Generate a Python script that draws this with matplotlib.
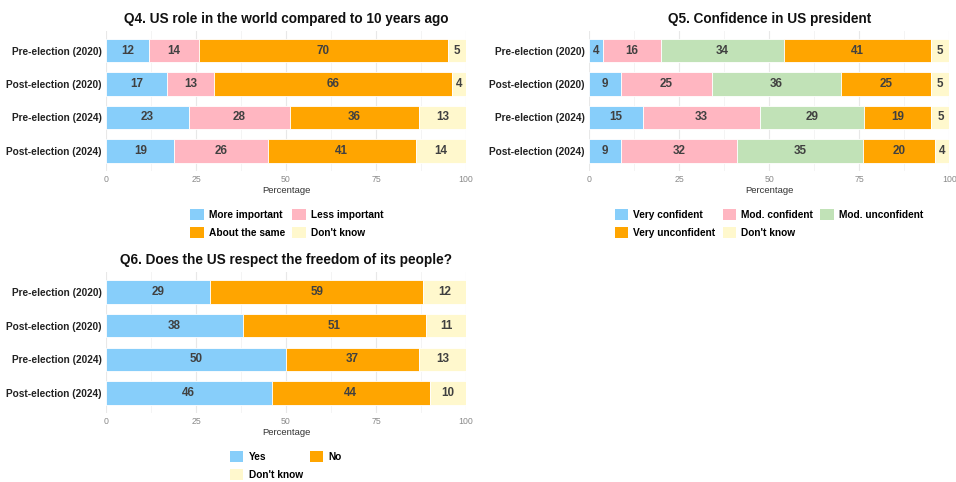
import numpy as np
import matplotlib
matplotlib.use("Agg")
import matplotlib.pyplot as plt
from matplotlib.patches import Patch

plt.rcParams['font.family'] = ['Liberation Sans', 'DejaVu Sans']

W, H = 956, 482

periods = ['Pre-election (2020)', 'Post-election (2020)',
           'Pre-election (2024)', 'Post-election (2024)']

# Q4
q4_title = 'Q4. US role in the world compared to 10 years ago'
q4_cats = ['More important', 'Less important', 'About the same', "Don't know"]
q4_more = [12, 17, 23, 19]
q4_less = [14, 13, 28, 26]
q4_same = [70, 66, 36, 41]
q4_dk = [5, 4, 13, 14]

# Q5
q5_title = 'Q5. Confidence in US president'
q5_cats = ['Very confident', 'Mod. confident', 'Mod. unconfident',
           'Very unconfident', "Don't know"]
q5_vc = [4, 9, 15, 9]
q5_mc = [16, 25, 33, 32]
q5_mu = [34, 36, 29, 35]
q5_vu = [41, 25, 19, 20]
q5_dk = [5, 5, 5, 4]

# Q6
q6_title = 'Q6. Does the US respect the freedom of its people?'
q6_cats = ['Yes', 'No', "Don't know"]
q6_yes = [29, 38, 50, 46]
q6_no = [59, 51, 37, 44]
q6_dk = [12, 11, 13, 10]

C_BLUE = '#87CEFA'
C_PINK = '#FFB6C1'
C_GREEN = '#C1E2B7'
C_ORANGE = '#FFA500'
C_CREAM = '#FFF8CD'

TXT = '#404040'


def px_axes(fig, x0, x1, y0, y1):
    return fig.add_axes([x0 / W, 1 - y1 / H, (x1 - x0) / W, (y1 - y0) / H])


def stacked(ax, series, colors, title):
    vals = np.array(series, dtype=float)           # (n_cats, n_rows)
    shares = vals / vals.sum(axis=0) * 100           # fill position
    y = np.arange(len(periods))
    left = np.zeros(len(periods))
    for raw, sh, c in zip(vals, shares, colors):
        ax.barh(y, sh, left=left, height=0.7, color=c, edgecolor='white',
                linewidth=0.6, zorder=2)
        for yi, l, s, r in zip(y, left, sh, raw):
            ax.text(l + s / 2, yi, f'{int(r)}', ha='center', va='center',
                    fontsize=8.4, fontweight='bold', color=TXT, zorder=3)
        left += sh

    ax.set_xlim(0, 100)
    ax.set_ylim(len(periods) - 0.4, -0.6)
    ax.set_yticks(y)
    ax.set_yticklabels(periods, fontsize=7.3, fontweight='bold', color='#222222')
    ax.set_xticks([0, 25, 50, 75, 100])
    ax.set_xticks([12.5, 37.5, 62.5, 87.5], minor=True)
    ax.tick_params(axis='x', which='major', labelsize=6.3, labelcolor='#8a8a8a',
                   length=0, pad=3)
    ax.tick_params(axis='x', which='minor', length=0)
    ax.tick_params(axis='y', length=0, pad=3)
    ax.grid(axis='x', which='major', color='#e8e8e8', lw=0.8, zorder=0)
    ax.grid(axis='x', which='minor', color='#f2f2f2', lw=0.6, zorder=0)
    ax.set_axisbelow(True)
    for s in ax.spines.values():
        s.set_visible(False)
    ax.set_xlabel('Percentage', fontsize=6.8, color='#333333', labelpad=1)
    ax.set_title(title, fontsize=9.8, fontweight='bold', color='#111111', pad=5.5)


def legend(fig, labels, colors, order, ncol, cx, top):
    handles = [Patch(facecolor=colors[i], edgecolor='none') for i in order]
    labs = [labels[i] for i in order]
    fig.legend(handles, labs, ncol=ncol, loc='upper center',
               bbox_to_anchor=(cx / W, 1 - top / H), frameon=False,
               prop={'size': 7.3, 'weight': 'bold'},
               handlelength=1.3, handleheight=1.3, handletextpad=0.55,
               columnspacing=0.7, labelspacing=0.7, borderpad=0,
               borderaxespad=0)


fig = plt.figure(figsize=(W / 100, H / 100), dpi=100)

ax4 = px_axes(fig, 106, 466, 30.5, 171)
stacked(ax4, [q4_more, q4_less, q4_same, q4_dk],
        [C_BLUE, C_PINK, C_ORANGE, C_CREAM], q4_title)
legend(fig, q4_cats, [C_BLUE, C_PINK, C_ORANGE, C_CREAM], [0, 2, 1, 3], 2,
       287, 209)

ax5 = px_axes(fig, 589, 949.3, 30.5, 171)
stacked(ax5, [q5_vc, q5_mc, q5_mu, q5_vu, q5_dk],
        [C_BLUE, C_PINK, C_GREEN, C_ORANGE, C_CREAM], q5_title)
legend(fig, q5_cats, [C_BLUE, C_PINK, C_GREEN, C_ORANGE, C_CREAM],
       [0, 3, 1, 4, 2], 3, 769, 209)

ax6 = px_axes(fig, 106, 466, 272, 413)
stacked(ax6, [q6_yes, q6_no, q6_dk], [C_BLUE, C_ORANGE, C_CREAM], q6_title)
legend(fig, q6_cats, [C_BLUE, C_ORANGE, C_CREAM], [0, 2, 1], 2, 286, 451)

fig.savefig('out.png', dpi=100, facecolor='white')
